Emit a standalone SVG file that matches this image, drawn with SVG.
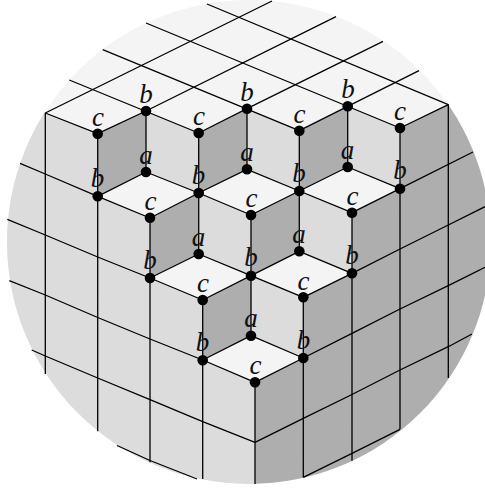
<svg xmlns="http://www.w3.org/2000/svg" width="485" height="489" viewBox="0 0 485 489">
<style>
.t{fill:#f4f4f4}.l{fill:#dcdcdc}.r{fill:#aeaeae}
.g{fill:none;stroke:#000;stroke-width:1.3;stroke-linejoin:round}
.d{fill:#000}
text{font-family:"Liberation Serif",serif;font-style:italic;font-size:27px;text-anchor:middle;fill:#111}
</style>
<defs><clipPath id="disc"><circle cx="249" cy="242" r="242"/></clipPath></defs>
<g id="faces" clip-path="url(#disc)">
<rect class="t" width="485" height="489"/>
<polygon class="l" points="45.3,113 97.7,133.7 97.7,196.3 150,218 150,278 202.7,300 202.7,360 255,382.3 255,500 -10,500 -10,113"/>
<polygon class="r" points="255,382.3 303.3,358 303.3,297.3 352,273.3 352,212.7 400,188.7 400,128 448.3,104.7 500,104.7 500,500 255,500"/>
<polygon class="r" points="97.7,133.7 146,111 146,172 97.7,196.3"/>
<polygon class="l" points="146,111 198.7,133 198.7,193 146,172"/>
<polygon class="r" points="198.7,133 247,108.7 247,169.3 198.7,193"/>
<polygon class="l" points="247,108.7 299.3,130.7 299.3,191 247,169.3"/>
<polygon class="r" points="299.3,130.7 347.7,106.3 347.7,167 299.3,191"/>
<polygon class="l" points="347.7,106.3 400,128 400,188.7 347.7,167"/>
<polygon class="r" points="150,218 198.7,193 198.7,254 150,278"/>
<polygon class="l" points="198.7,193 251,215 251,275.7 198.7,254"/>
<polygon class="r" points="251,215 299.3,191 299.3,251.3 251,275.7"/>
<polygon class="l" points="299.3,191 352,212.7 352,273.3 299.3,251.3"/>
<polygon class="r" points="202.7,300 251,275.7 251,335.7 202.7,360"/>
<polygon class="l" points="251,275.7 303.3,297.3 303.3,358 251,335.7"/>
</g>
<g id="connectors" class="g">
<path d="M45.3,374V113L272,1M146,111L336,16.7M247,108.7L383,41.3M347.7,106.3L419,70.7"/>
<path d="M45.3,113L97.7,133.7M69.3,80L198.7,133M102.7,49.7L299.3,130.7M146,23L400,128M207,4L448.3,104.7"/>
<path d="M97.7,133.7L146,111M198.7,133L247,108.7M299.3,130.7L347.7,106.3M400,128L448.3,104.7V378"/>
<path d="M97.7,133.7V431.3M150,218V462.3M202.7,300V479M255,382.3V484M303.3,297.3V477.3M352,212.7V460.7M400,128V429.3"/>
<path d="M146,111V172M198.7,133V254M247,108.7V169.3M251,215V335.7M299.3,130.7V251.3M347.7,106.3V167"/>
<path d="M20,163.3L45.3,174L97.7,196.3L150,218L198.7,193"/>
<path d="M7.3,219.3L45.3,235L97.7,257L150,278L202.7,300L251,275.7"/>
<path d="M9.3,280.7L45.3,295L97.7,317.5L150,339L202.7,360L255,382.3L303.3,358"/>
<path d="M31.7,350L45.3,356L97.7,378L150,399.7L202.7,421.7L255,442.3L303.3,418.3L352,394.5L400,370L448.3,346.7L472,334"/>
<path d="M117,445.5L150,460.5L197,479M303.3,477.3L352,453.3L400,429.3"/>
<path d="M303.3,358L352,333.3L400,309L448.3,285.7L485,267.3M352,273.3L400,249L448.3,225L485,206.7M400,188.7L473,152"/>
<path d="M97.7,196.3L146,172L198.7,193L251,215L299.3,191L352,212.7L400,188.7M198.7,193L247,169.3L299.3,191L347.7,167L400,188.7"/>
<path d="M150,278L198.7,254L251,275.7L299.3,251.3L352,273.3L303.3,297.3L251,275.7"/>
<path d="M202.7,360L251,335.7L303.3,358"/>
</g>
<g id="nodes">
<g id="n1"><circle class="d" cx="97.7" cy="133.7" r="5.3"/><text x="98" y="126">c</text></g>
<g id="n2"><circle class="d" cx="146" cy="111" r="5.3"/><text x="146" y="102.5">b</text></g>
<g id="n3"><circle class="d" cx="198.7" cy="133" r="5.3"/><text x="199" y="125">c</text></g>
<g id="n4"><circle class="d" cx="247" cy="108.7" r="5.3"/><text x="247" y="100.5">b</text></g>
<g id="n5"><circle class="d" cx="299.3" cy="130.7" r="5.3"/><text x="299.5" y="122.5">c</text></g>
<g id="n6"><circle class="d" cx="347.7" cy="106.3" r="5.3"/><text x="348" y="98">b</text></g>
<g id="n7"><circle class="d" cx="400" cy="128" r="5.3"/><text x="400" y="120">c</text></g>
<g id="n8"><circle class="d" cx="97.7" cy="196.3" r="5.3"/><text x="97.5" y="187">b</text></g>
<g id="n9"><circle class="d" cx="146" cy="172" r="5.3"/><text x="146" y="163.5">a</text></g>
<g id="n10"><circle class="d" cx="198.7" cy="193" r="5.3"/><text x="198.5" y="184">b</text></g>
<g id="n11"><circle class="d" cx="247" cy="169.3" r="5.3"/><text x="247" y="160.5">a</text></g>
<g id="n12"><circle class="d" cx="299.3" cy="191" r="5.3"/><text x="299" y="181.5">b</text></g>
<g id="n13"><circle class="d" cx="347.7" cy="167" r="5.3"/><text x="347.5" y="158.5">a</text></g>
<g id="n14"><circle class="d" cx="400" cy="188.7" r="5.3"/><text x="400" y="179">b</text></g>
<g id="n15"><circle class="d" cx="150" cy="217.7" r="5.3"/><text x="150.5" y="210">c</text></g>
<g id="n16"><circle class="d" cx="251" cy="215" r="5.3"/><text x="251.5" y="207">c</text></g>
<g id="n17"><circle class="d" cx="352" cy="212.7" r="5.3"/><text x="352.5" y="204.5">c</text></g>
<g id="n18"><circle class="d" cx="150" cy="278" r="5.3"/><text x="150" y="268.5">b</text></g>
<g id="n19"><circle class="d" cx="198.7" cy="254" r="5.3"/><text x="198.5" y="245.5">a</text></g>
<g id="n20"><circle class="d" cx="251" cy="275.7" r="5.3"/><text x="251" y="266">b</text></g>
<g id="n21"><circle class="d" cx="299.3" cy="251.3" r="5.3"/><text x="299" y="243">a</text></g>
<g id="n22"><circle class="d" cx="352" cy="273.3" r="5.3"/><text x="352" y="263.5">b</text></g>
<g id="n23"><circle class="d" cx="202.7" cy="300" r="5.3"/><text x="203" y="292">c</text></g>
<g id="n24"><circle class="d" cx="303.3" cy="297.3" r="5.3"/><text x="303.5" y="289.5">c</text></g>
<g id="n25"><circle class="d" cx="202.7" cy="360.3" r="5.3"/><text x="202.5" y="350.5">b</text></g>
<g id="n26"><circle class="d" cx="251" cy="335.7" r="5.3"/><text x="251" y="327">a</text></g>
<g id="n27"><circle class="d" cx="303.3" cy="358" r="5.3"/><text x="303.5" y="348.5">b</text></g>
<g id="n28"><circle class="d" cx="255" cy="382.3" r="5.3"/><text x="255.5" y="374">c</text></g>
</g>
</svg>
